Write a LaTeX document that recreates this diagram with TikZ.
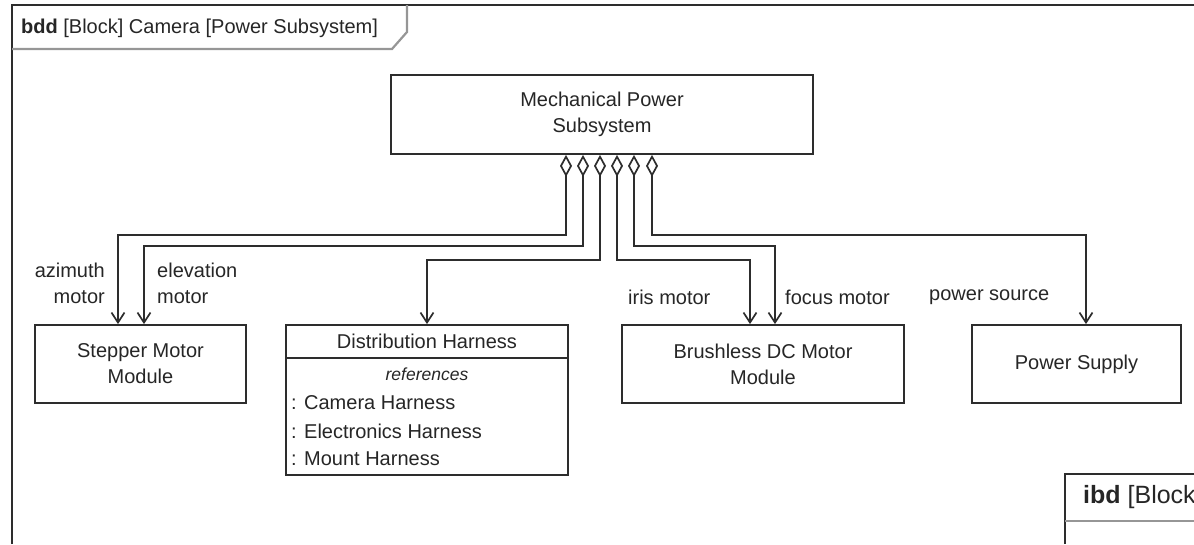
\documentclass[tikz,border=0pt]{standalone}
\usepackage{fontspec}
\setmainfont{Liberation Sans}
\usepackage{tikz}
\usetikzlibrary{positioning,calc}
\usetikzlibrary{arrows.meta}
\definecolor{LineGray}{RGB}{45,45,45}
\definecolor{TabGray}{RGB}{150,150,150}
\tikzset{
  blk/.style={draw=LineGray,line width=1.8pt,fill=white,inner sep=0pt,align=center,minimum height=78pt},
  role/.style={inner sep=0pt,align=left},
  item/.style={inner sep=0pt,anchor=west},
  comp/.style={draw=LineGray,line width=1.7pt,
    {Diamond[open,length=22pt,width=12pt]}-{Straight Barb[length=10pt,width=13pt]}},
  frm/.style={draw=LineGray,line width=1.8pt},
  tab/.style={draw=TabGray,line width=2.2pt},
}

\begin{document}
\begin{tikzpicture}[x=1pt,y=-1pt,font=\fontsize{20}{26}\selectfont,text=black!85]
\useasboundingbox (0,0) rectangle (1194,544);
% frame
\draw[frm] (12,544) -- (12,5) -- (1194,5);
\draw[tab] (407,5) -- (407,32) -- (392,49) -- (12,49);
\node[item] (title) at (21,28) {\textbf{bdd} [Block] Camera [Power Subsystem]};
% blocks
\node[blk,minimum width=422pt,minimum height=79pt] (mps) at (602,114.5) {Mechanical Power\\Subsystem};
\node[blk,minimum width=211pt] (smm) at (140.5,364) {Stepper Motor\\Module};
\node[blk,minimum width=282pt,minimum height=33pt] (dh) at (427,341.5) {Distribution Harness};
\node[blk,minimum width=282pt,minimum height=117pt] (dhc) at (427,416.5) {};
\node[inner sep=0pt,font=\fontsize{17.5}{20}\selectfont\itshape] (dhr) at (427,374) {references};
\node[item] (dh1) at (291,403) {: Camera Harness};
\node[item] (dh2) at (291,431) {: Electronics Harness};
\node[item] (dh3) at (291,459) {: Mount Harness};
\node[blk,minimum width=282pt] (bdc) at (763,364) {Brushless DC Motor\\Module};
\node[blk,minimum width=209pt] (ps) at (1076.5,364) {Power Supply};
% compositions
\draw[comp] ([xshift=-36pt]mps.south) -- ++(0,80) -| ([xshift=-22.5pt]smm.north);
\draw[comp] ([xshift=-19pt]mps.south) -- ++(0,91) -| ([xshift=3.5pt]smm.north);
\draw[comp] ([xshift=-2pt]mps.south) -- ++(0,105) -| (dh.north);
\draw[comp] ([xshift=15pt]mps.south) -- ++(0,105) -| ([xshift=-13pt]bdc.north);
\draw[comp] ([xshift=32pt]mps.south) -- ++(0,91) -| ([xshift=12pt]bdc.north);
\draw[comp] ([xshift=50pt]mps.south) -- ++(0,80) -| ([xshift=9.5pt]ps.north);
% role names
\node[role,align=right,anchor=east] (az) at (105,283.5) {azimuth\\motor};
\node[role,anchor=west] (el) at (157,283.5) {elevation\\motor};
\node[item] (iris) at (628,297) {iris motor};
\node[item] (focus) at (785,297) {focus motor};
\node[item] (src) at (929,297) {power source};
% ibd frame
\draw[frm] (1065,544) -- (1065,474) -- (1194,474);
\draw[tab] (1065,521) -- (1194,521);
\node[item,font=\fontsize{25}{30}\selectfont] (ibd) at (1083,497) {\textbf{ibd} [Block};
\end{tikzpicture}
\end{document}
